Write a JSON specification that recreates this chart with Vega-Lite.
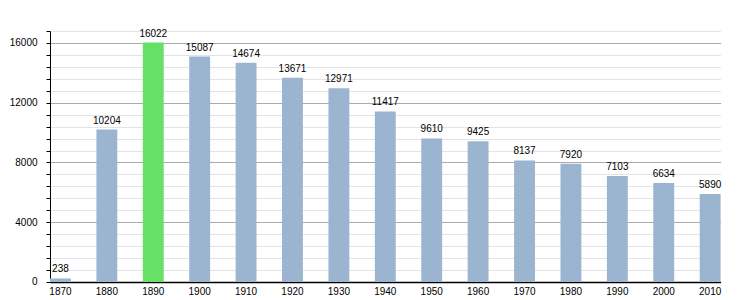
{
  "$schema": "https://vega.github.io/schema/vega-lite/v6.json",
  "autosize": "none",
  "width": 670.6,
  "height": 251,
  "padding": {"left": 50, "top": 31, "right": 29, "bottom": 18},
  "config": {
    "view": {"stroke": null},
    "font": "Liberation Sans",
    "axis": {"labelFont": "Liberation Sans", "labelFontSize": 10, "labelColor": "#000"}
  },
  "data": {
    "values": [
      {"year": "1870", "pop": 238, "hl": "n"},
      {"year": "1880", "pop": 10204, "hl": "n"},
      {"year": "1890", "pop": 16022, "hl": "y"},
      {"year": "1900", "pop": 15087, "hl": "n"},
      {"year": "1910", "pop": 14674, "hl": "n"},
      {"year": "1920", "pop": 13671, "hl": "n"},
      {"year": "1930", "pop": 12971, "hl": "n"},
      {"year": "1940", "pop": 11417, "hl": "n"},
      {"year": "1950", "pop": 9610, "hl": "n"},
      {"year": "1960", "pop": 9425, "hl": "n"},
      {"year": "1970", "pop": 8137, "hl": "n"},
      {"year": "1980", "pop": 7920, "hl": "n"},
      {"year": "1990", "pop": 7103, "hl": "n"},
      {"year": "2000", "pop": 6634, "hl": "n"},
      {"year": "2010", "pop": 5890, "hl": "n"}
    ]
  },
  "encoding": {
    "x": {
      "field": "year",
      "type": "ordinal",
      "scale": {"paddingInner": 0.55, "paddingOuter": 0},
      "axis": {
        "title": null,
        "labelAngle": 0,
        "ticks": false,
        "domainColor": "#000",
        "domainWidth": 1.5,
        "labelPadding": 5
      }
    },
    "y": {
      "field": "pop",
      "type": "quantitative",
      "scale": {"domain": [0, 16800], "nice": false},
      "axis": {
        "title": null,
        "values": [0, 800, 1600, 2400, 3200, 4000, 4800, 5600, 6400, 7200, 8000, 8800, 9600, 10400, 11200, 12000, 12800, 13600, 14400, 15200, 16000, 16800],
        "format": "d",
        "labelExpr": "datum.value % 4000 === 0 ? datum.label : ''",
        "grid": true,
        "gridColor": {"condition": {"test": "datum.value % 4000 === 0", "value": "#aaaaaa"}, "value": "#e4e4e4"},
        "tickColor": "#000",
        "tickSize": 4,
        "domainColor": "#000",
        "labelPadding": 9
      }
    }
  },
  "layer": [
    {
      "mark": {"type": "bar"},
      "encoding": {
        "color": {
          "field": "hl",
          "type": "nominal",
          "scale": {"domain": ["n", "y"], "range": ["#9bb4cf", "#66e066"]},
          "legend": null
        }
      }
    },
    {
      "mark": {"type": "text", "baseline": "bottom", "dy": -4, "fontSize": 10, "color": "#000", "font": "Liberation Sans"},
      "encoding": {"text": {"field": "pop", "type": "quantitative", "format": "d"}}
    }
  ]
}
